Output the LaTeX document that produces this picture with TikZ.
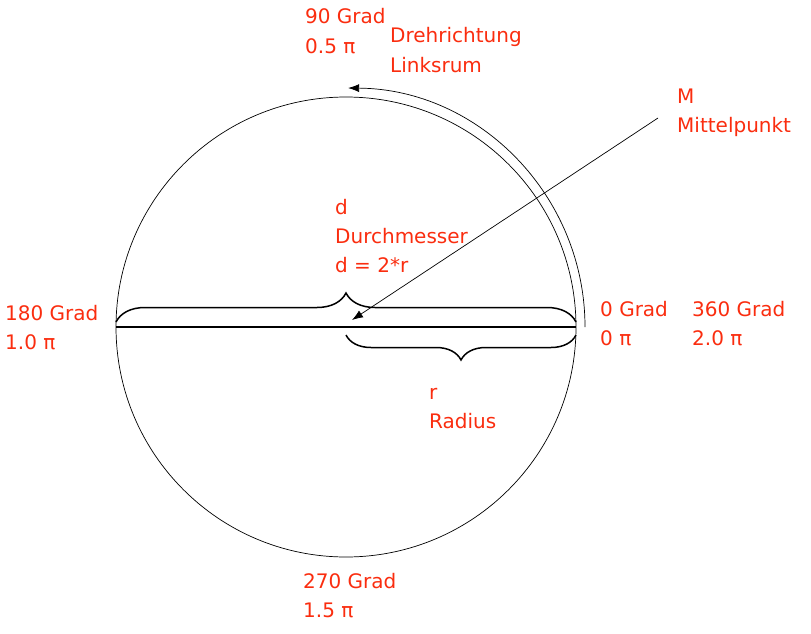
\documentclass[tikz,border=0pt]{standalone}
\usepackage{fontspec}
\setmainfont{DejaVu Sans}
\usetikzlibrary{arrows.meta,decorations.pathreplacing}
\definecolor{pen}{RGB}{250,45,15}
\begin{document}
\begin{tikzpicture}[x=1pt,y=1pt,
  lbl/.style={text=pen,font=\fontsize{20}{29}\selectfont,align=left,anchor=base west,inner sep=0pt},
  tip/.style={-{Latex[length=11pt,width=8pt]}},
  brc/.style={decorate,decoration={brace,amplitude=#1},line width=1.5pt}]
\useasboundingbox (0,0) rectangle (811,-634);
\coordinate (c) at (346,-327);
\coordinate (w) at (116,-327);
\coordinate (e) at (576,-327);
\coordinate (arcstart) at (585,-327);
\coordinate (mtail) at (658,-118);
\coordinate (mhead) at (352,-320);
\draw[line width=0.7pt] (c) circle[radius=230];
\draw[line width=1.4pt] (w) -- (e);
\draw[brc=29pt] ([yshift=5pt]w) -- ([yshift=5pt]e);
\draw[brc=25pt] ([yshift=-8pt]e) -- ([yshift=-8pt]c);
\draw[tip,line width=0.7pt] (arcstart) arc[start angle=0,end angle=89.5,radius=239];
\draw[tip,line width=0.7pt] (mtail) -- (mhead);
\node[lbl] (deg90) at (305,-53) {90 Grad\\0.5 π};
\node[lbl] (turn) at (390,-72) {Drehrichtung\\Linksrum};
\node[lbl] (mid) at (677,-132) {M\\Mittelpunkt};
\node[lbl] (diam) at (335,-272) {d\\Durchmesser\\d = 2*r};
\node[lbl] (deg180) at (5,-349) {180 Grad\\1.0 π};
\node[lbl] (deg0) at (600,-345) {0 Grad\\0 π};
\node[lbl] (deg360) at (692,-345) {360 Grad\\2.0 π};
\node[lbl] (rad) at (429,-428) {r\\Radius};
\node[lbl] (deg270) at (303,-617) {270 Grad\\1.5 π};
\end{tikzpicture}
\end{document}
